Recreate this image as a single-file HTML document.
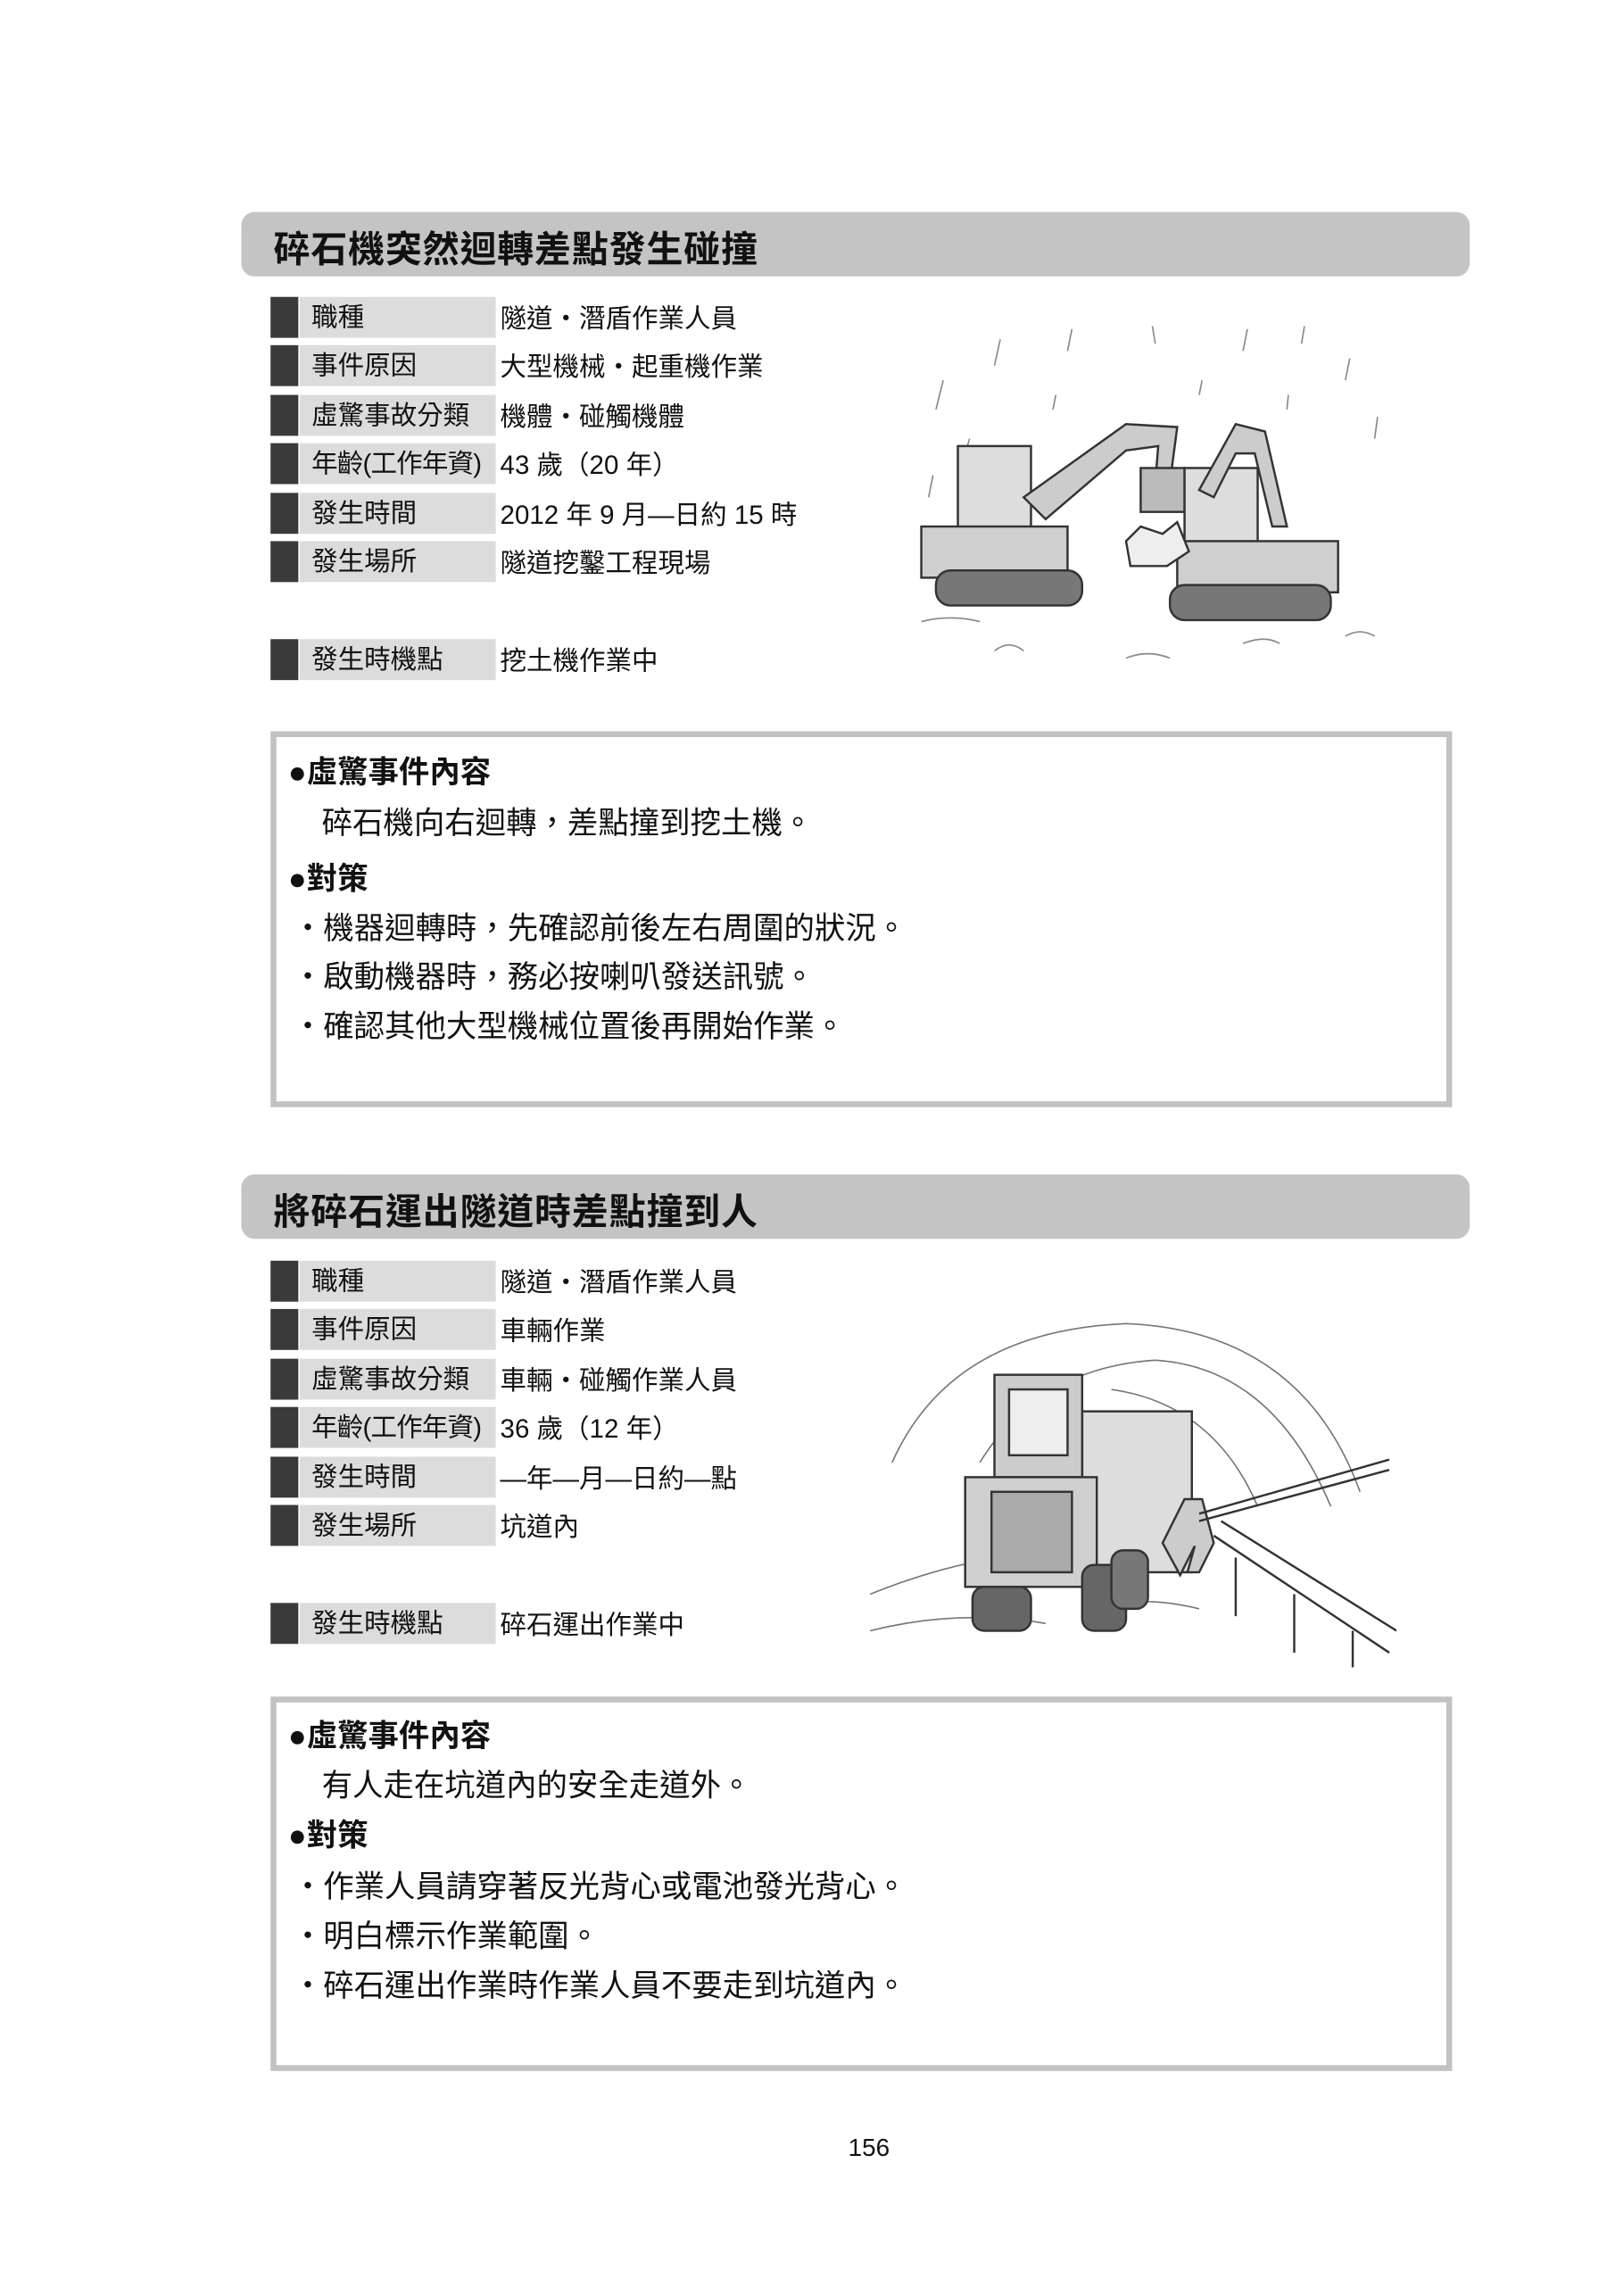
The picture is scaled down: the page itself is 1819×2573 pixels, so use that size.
<!DOCTYPE html>
<html><head><meta charset="utf-8"><style>
html,body{margin:0;padding:0;background:#fff;}
body{width:1819px;height:2573px;overflow:hidden;position:relative;}
#w{position:absolute;left:0;top:0;width:1110px;height:1570px;transform:scale(1.639);transform-origin:0 0;font-family:"Liberation Sans","Noto Sans CJK TC",sans-serif;color:#111;}
.hdr{position:absolute;left:165px;width:840px;height:44px;background:#c4c4c4;border-radius:9px;}
.hdr span{position:absolute;left:22px;top:6px;font-size:25px;font-weight:bold;letter-spacing:0.5px;}
.row{position:absolute;left:185px;height:28px;width:400px;}
.row .d{position:absolute;left:0;top:0;width:19px;height:28px;background:#3a3a3a;}
.row .l{position:absolute;left:20px;top:0;width:134px;height:28px;background:#dcdcdc;font-size:18px;line-height:28px;padding-left:8px;box-sizing:border-box;white-space:nowrap;}
.row .v{position:absolute;left:157px;top:0;font-size:18px;line-height:30px;white-space:nowrap;}
.box{position:absolute;left:185px;width:800px;border:4px solid #c2c2c2;background:#fff;}
.t{position:absolute;font-size:21px;white-space:nowrap;}
.b{font-weight:bold;}
</style></head><body><div id="w">

<div class="hdr" style="top:145px"><span>碎石機突然迴轉差點發生碰撞</span></div>
<div class="row" style="top:203px"><div class="d"></div><div class="l">職種</div><div class="v">隧道・潛盾作業人員</div></div>
<div class="row" style="top:236px"><div class="d"></div><div class="l">事件原因</div><div class="v">大型機械・起重機作業</div></div>
<div class="row" style="top:270px"><div class="d"></div><div class="l">虛驚事故分類</div><div class="v">機體・碰觸機體</div></div>
<div class="row" style="top:303px"><div class="d"></div><div class="l" style="padding-left:8px;letter-spacing:-0.5px">年齡(工作年資)</div><div class="v">43 歲（20 年）</div></div>
<div class="row" style="top:337px"><div class="d"></div><div class="l">發生時間</div><div class="v">2012 年 9 月—日約 15 時</div></div>
<div class="row" style="top:370px"><div class="d"></div><div class="l">發生場所</div><div class="v">隧道挖鑿工程現場</div></div>
<div class="row" style="top:437px"><div class="d"></div><div class="l">發生時機點</div><div class="v">挖土機作業中</div></div>

<svg style="position:absolute;left:620px;top:220px" width="340" height="245" viewBox="0 0 340 245">
<g stroke="#888" stroke-width="1" fill="none">
<path d="M20 60 l5 -20 M60 30 l4 -18 M110 20 l3 -15 M170 15 l-2 -12 M230 20 l3 -15 M270 15 l2 -12 M300 40 l3 -15 M320 80 l2 -15 M15 120 l3 -15 M40 90 l3 -10 M100 60 l2-10 M200 50 l2-10 M260 60 l1-10"/>
<path d="M10 205 q20 -5 40 0 M60 225 q10 -8 20 0 M150 230 q15 -6 30 0 M230 220 q15 -6 25 0 M300 215 q10 -6 20 0"/>
</g>
<g stroke="#333" stroke-width="1.5">
<rect x="35" y="85" width="50" height="75" fill="#ddd"/>
<rect x="10" y="140" width="100" height="35" fill="#cfcfcf"/>
<rect x="20" y="170" width="100" height="24" rx="10" fill="#777"/>
<path d="M80 120 L150 70 L185 72 L180 110 L170 110 L172 85 L150 88 L95 135 Z" fill="#ccc"/>
<rect x="160" y="100" width="30" height="30" fill="#bbb"/>
<rect x="190" y="100" width="50" height="80" fill="#ddd"/>
<rect x="185" y="150" width="110" height="35" fill="#cfcfcf"/>
<rect x="180" y="180" width="110" height="24" rx="10" fill="#777"/>
<path d="M200 115 L225 70 L245 75 L260 140 L250 140 L238 90 L225 90 L210 120 Z" fill="#ccc"/>
<path d="M150 150 l10 -10 l15 5 l10 -8 l8 20 l-15 10 l-25 0 z" fill="#eee"/>
</g>
</svg>

<div class="box" style="top:500px;height:249px"></div>
<div class="t b" style="left:197px;top:512px">●虛驚事件內容</div>
<div class="t" style="left:220px;top:547px">碎石機向右迴轉，差點撞到挖土機。</div>
<div class="t b" style="left:197px;top:585px">●對策</div>
<div class="t" style="left:200px;top:619px">・機器迴轉時，先確認前後左右周圍的狀況。</div>
<div class="t" style="left:200px;top:652px">・啟動機器時，務必按喇叭發送訊號。</div>
<div class="t" style="left:200px;top:686px">・確認其他大型機械位置後再開始作業。</div>

<div class="hdr" style="top:803px"><span>將碎石運出隧道時差點撞到人</span></div>
<div class="row" style="top:862px"><div class="d"></div><div class="l">職種</div><div class="v">隧道・潛盾作業人員</div></div>
<div class="row" style="top:895px"><div class="d"></div><div class="l">事件原因</div><div class="v">車輛作業</div></div>
<div class="row" style="top:929px"><div class="d"></div><div class="l">虛驚事故分類</div><div class="v">車輛・碰觸作業人員</div></div>
<div class="row" style="top:962px"><div class="d"></div><div class="l" style="letter-spacing:-0.5px">年齡(工作年資)</div><div class="v">36 歲（12 年）</div></div>
<div class="row" style="top:996px"><div class="d"></div><div class="l">發生時間</div><div class="v">—年—月—日約—點</div></div>
<div class="row" style="top:1029px"><div class="d"></div><div class="l">發生場所</div><div class="v">坑道內</div></div>
<div class="row" style="top:1096px"><div class="d"></div><div class="l">發生時機點</div><div class="v">碎石運出作業中</div></div>

<svg style="position:absolute;left:590px;top:890px" width="365" height="255" viewBox="0 0 365 255">
<g stroke="#777" stroke-width="1" fill="none">
<path d="M20 110 Q60 20 180 15 Q300 20 340 130"/>
<path d="M80 110 Q120 45 200 40 Q280 45 320 140"/>
<path d="M170 60 Q240 70 270 140"/>
<path d="M5 200 q50 -20 90 -25 M5 225 q60 -15 120 -5 M150 210 q40 -10 80 0"/>
</g>
<g stroke="#333" stroke-width="1.5">
<rect x="150" y="75" width="75" height="110" fill="#ddd"/>
<rect x="90" y="50" width="60" height="70" fill="#ccc"/>
<rect x="100" y="60" width="40" height="45" fill="#eee"/>
<rect x="70" y="120" width="90" height="75" fill="#cfcfcf"/>
<rect x="88" y="130" width="55" height="55" fill="#aaa"/>
<rect x="75" y="195" width="40" height="30" rx="8" fill="#666"/>
<rect x="150" y="180" width="30" height="45" rx="8" fill="#666"/>
<rect x="170" y="170" width="25" height="40" rx="8" fill="#777"/>
<path d="M205 165 l15 -30 l12 0 l8 30 l-10 20 l-8 0 l5 -18 l-10 20 z" fill="#ccc"/>
<path d="M240 160 L360 240 M245 150 L365 225 M230 150 L360 115 M230 145 L360 108" fill="none"/>
<path d="M255 175 v40 M295 200 v40 M335 225 v25" fill="none"/>
</g>
</svg>

<div class="box" style="top:1160px;height:248px"></div>
<div class="t b" style="left:197px;top:1171px">●虛驚事件內容</div>
<div class="t" style="left:220px;top:1205px">有人走在坑道內的安全走道外。</div>
<div class="t b" style="left:197px;top:1239px">●對策</div>
<div class="t" style="left:200px;top:1274px">・作業人員請穿著反光背心或電池發光背心。</div>
<div class="t" style="left:200px;top:1308px">・明白標示作業範圍。</div>
<div class="t" style="left:200px;top:1342px">・碎石運出作業時作業人員不要走到坑道內。</div>

<div class="t" style="left:580px;top:1459px;font-size:17px">156</div>
</div></body></html>
